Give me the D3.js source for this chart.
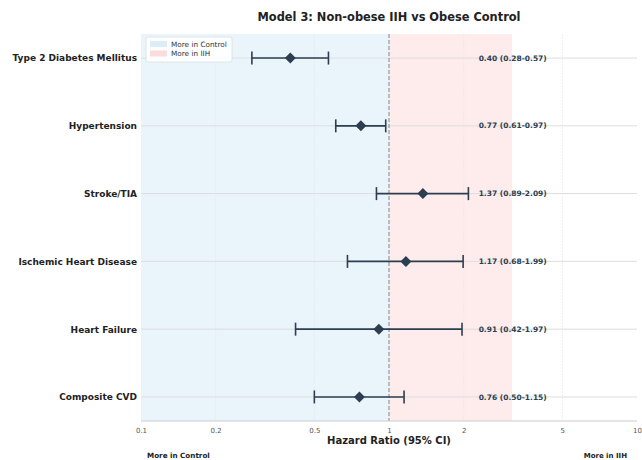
<!DOCTYPE html>
<html><head><meta charset="utf-8">
<script src="https://cdn.jsdelivr.net/npm/d3@7"></script>
<style>body{margin:0;background:#fff;font-family:"DejaVu Sans",sans-serif;}</style>
</head><body><svg id="c" width="642" height="460"></svg>
<script>
const outcomes = ["Type 2 Diabetes Mellitus","Hypertension","Stroke/TIA","Ischemic Heart Disease","Heart Failure","Composite CVD"];
const hr = [0.40,0.77,1.37,1.17,0.91,0.76];
const lower = [0.28,0.61,0.89,0.68,0.42,0.50];
const upper = [0.57,0.97,2.09,1.99,1.97,1.15];
const xTicks = [0.1,0.2,0.5,1,2,5,10];
const xTickLabels = ["0.1","0.2","0.5","1","2","5","10"];

const svg = d3.select("#c");
const L=141, R=637, T=34, B=421;
const x = d3.scaleLog().domain([0.1,10]).range([L,R]);
const y = d3.scaleLinear().domain([-0.355,5.355]).range([T,B]);
const dark = "#2c3e50";
const maxU = d3.max(upper);

svg.append("rect").attr("x",x(0.1)).attr("y",T).attr("width",x(1)-x(0.1)).attr("height",B-T).attr("fill","#eaf5fb");
svg.append("rect").attr("x",x(1)).attr("y",T).attr("width",x(maxU*1.5)-x(1)).attr("height",B-T).attr("fill","#fdeceb");

svg.append("g").selectAll("line").data(xTicks.slice(1,-1)).join("line")
  .attr("x1",d=>x(d)).attr("x2",d=>x(d)).attr("y1",T).attr("y2",B)
  .attr("stroke","#e6eaee").attr("stroke-width",0.8).attr("stroke-dasharray","2,1");
svg.append("g").selectAll("line").data(outcomes).join("line")
  .attr("x1",L).attr("x2",R).attr("y1",(d,i)=>y(i)).attr("y2",(d,i)=>y(i))
  .attr("stroke","#dddddd").attr("stroke-width",1);

svg.append("line").attr("x1",x(1)).attr("x2",x(1)).attr("y1",T).attr("y2",B)
  .attr("stroke","#999").attr("stroke-width",1.2).attr("stroke-dasharray","4,2");

svg.append("line").attr("x1",L).attr("x2",R).attr("y1",B).attr("y2",B).attr("stroke","#cccccc").attr("stroke-width",1);

const xa = d3.axisBottom(x).tickValues(xTicks).tickFormat((d,i)=>xTickLabels[i]).tickSize(0).tickPadding(7);
const gx = svg.append("g").attr("transform",`translate(0,${B})`).call(xa);
gx.select(".domain").remove();
gx.selectAll("text").attr("font-size",7).attr("fill","#555").attr("font-family","DejaVu Sans");

const ya = d3.axisLeft(y).tickValues(d3.range(outcomes.length)).tickFormat(i=>outcomes[i]).tickSize(0).tickPadding(4);
const gy = svg.append("g").attr("transform",`translate(${L},0)`).call(ya);
gy.select(".domain").remove();
gy.selectAll("text").attr("font-size",9).attr("font-weight","bold").attr("fill","#222").attr("font-family","DejaVu Sans");

const g = svg.append("g");
outcomes.forEach((o,i)=>{
  const yy=y(i);
  g.append("line").attr("x1",x(lower[i])).attr("x2",x(upper[i])).attr("y1",yy).attr("y2",yy).attr("stroke",dark).attr("stroke-width",1.6);
  [lower[i],upper[i]].forEach(v=>{
    g.append("line").attr("x1",x(v)).attr("x2",x(v)).attr("y1",yy-6.5).attr("y2",yy+6.5).attr("stroke",dark).attr("stroke-width",1.6);
  });
  const cx=x(hr[i]), s=5.5;
  g.append("path").attr("d",`M${cx},${yy-s}L${cx+s},${yy}L${cx},${yy+s}L${cx-s},${yy}Z`).attr("fill",dark);
  g.append("text").attr("x",x(maxU*1.1)).attr("y",yy).attr("dy","0.35em")
    .attr("font-size",7.5).attr("font-weight","bold").attr("fill",dark)
    .text(`${hr[i].toFixed(2)} (${lower[i].toFixed(2)}-${upper[i].toFixed(2)})`);
});

svg.append("text").attr("x",(L+R)/2).attr("y",21).attr("text-anchor","middle")
  .attr("font-size",11.4).attr("font-weight","bold").attr("fill","#222").text("Model 3: Non-obese IIH vs Obese Control");
svg.append("text").attr("x",(L+R)/2).attr("y",444).attr("text-anchor","middle")
  .attr("font-size",10).attr("font-weight","bold").attr("fill","#222").text("Hazard Ratio (95% CI)");
svg.append("text").attr("x",147).attr("y",458).attr("font-size",7.2).attr("font-weight","bold").attr("fill","#222").text("More in Control");
svg.append("text").attr("x",627).attr("y",458).attr("text-anchor","end").attr("font-size",7).attr("font-weight","bold").attr("fill","#222").text("More in IIH");

const lg = svg.append("g").attr("transform","translate(146,37)");
lg.append("rect").attr("width",86).attr("height",25).attr("rx",2).attr("fill","#fff").attr("fill-opacity",0.85).attr("stroke","#e0e0e0").attr("stroke-width",0.8);
[["#dcedf8","More in Control"],["#fadcda","More in IIH"]].forEach((d,i)=>{
  lg.append("rect").attr("x",4).attr("y",4+i*9.5).attr("width",17).attr("height",6).attr("fill",d[0]);
  lg.append("text").attr("x",25).attr("y",9.7+i*9.5).attr("font-size",7.3).attr("fill","#333").text(d[1]);
});
</script></body></html>
